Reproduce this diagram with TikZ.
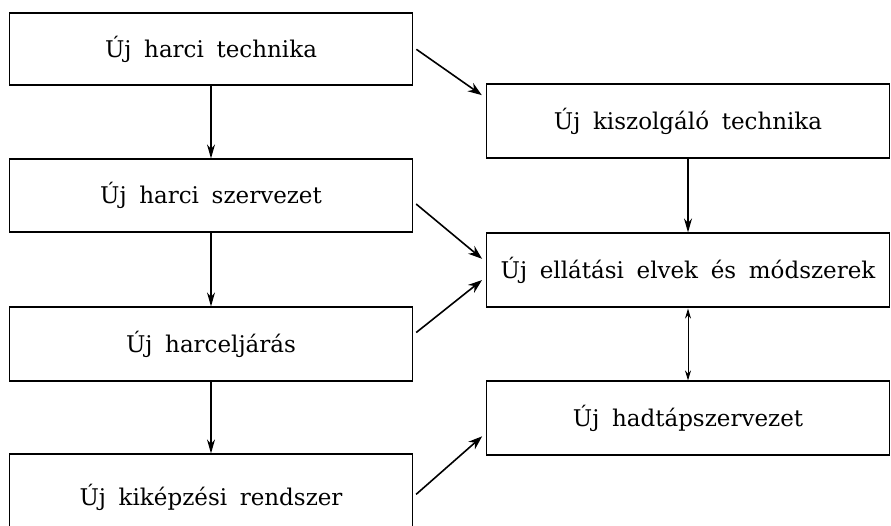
\documentclass[tikz,border=0pt]{standalone}
\usepackage{fontspec}
\setmainfont{DejaVu Serif}
\usetikzlibrary{arrows.meta}
\newcommand{\boxfont}{\fontsize{23}{27}\selectfont\spaceskip=0.55em\relax}
\begin{document}
\begin{tikzpicture}[x=1pt,y=-1pt,
  box/.style={draw, line width=1.2pt, minimum width=403pt, minimum height=#1,
    inner sep=0pt, font=\boxfont},
  arr/.style={line width=1.6pt, -{Stealth[length=14pt,width=10pt]}, shorten <=4pt, shorten >=5pt},
  varr/.style={line width=1.2pt, -{Stealth[length=14pt,width=8pt]}},
  darr/.style={line width=0.9pt, {Stealth[length=10pt,width=6pt]}-{Stealth[length=10pt,width=6pt]}, shorten <=1pt}]
\useasboundingbox (0,0) rectangle (891,525);
\clip (0,0) rectangle (891,525);
\node[box=72pt] (L1) at (211,49) {Új harci technika};
\node[box=73pt] (L2) at (211,195.5) {Új harci szervezet};
\node[box=74pt] (L3) at (211,344) {Új harceljárás};
\node[box=86pt] (L4) at (211,497) {Új kiképzési rendszer};
\node[box=74pt] (R1) at (688,121) {Új kiszolgáló technika};
\node[box=74pt] (R2) at (688,270) {Új ellátási elvek és módszerek};
\node[box=74pt] (R3) at (688,418) {Új hadtápszervezet};
\draw[varr] (L1) -- (L2);
\draw[varr] (L2) -- (L3);
\draw[varr] (L3) -- (L4);
\draw[varr] (R1) -- (R2);
\draw[darr] (R2) -- (R3);
\draw[arr] ([yshift=2pt]L1.east) -- ([yshift=23pt]R1.west);
\draw[arr] ([yshift=-6pt]L2.east) -- ([yshift=8pt]R2.west);
\draw[arr] ([yshift=9pt]L3.east) -- ([yshift=-7pt]R2.west);
\draw[arr] (L4.east) -- ([yshift=-15pt]R3.west);
\end{tikzpicture}
\end{document}
